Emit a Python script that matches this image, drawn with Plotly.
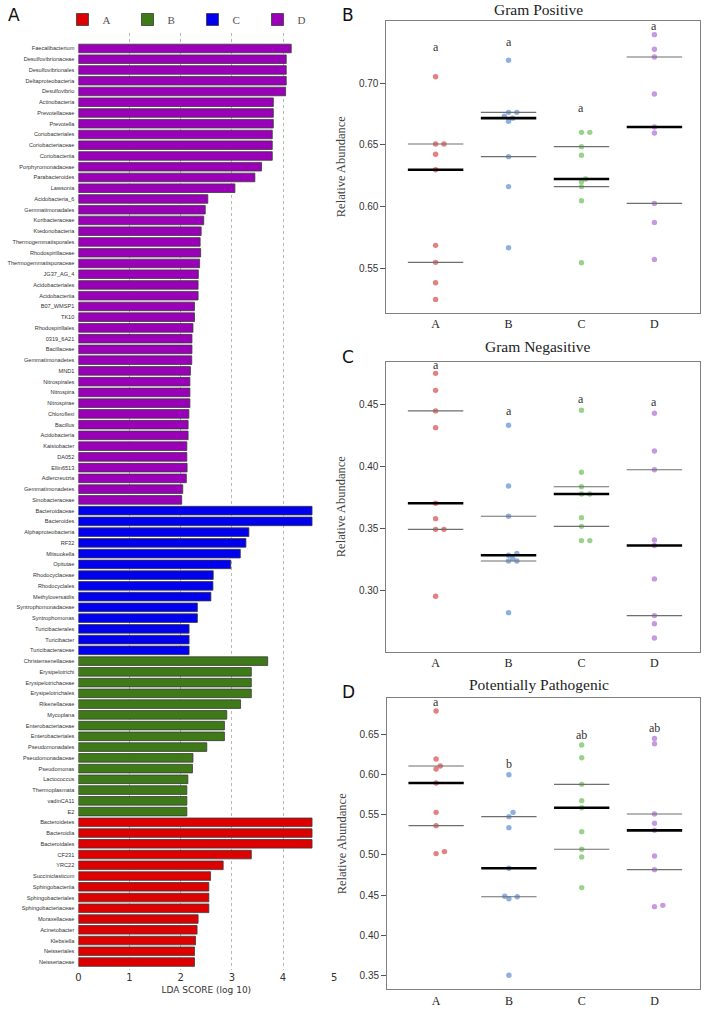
import numpy as np
import plotly.graph_objects as go

W, H = 711, 1009

# ---------------- Panel A: LDA scores ----------------
lda_group_names = ["A", "B", "C", "D"]
lda_group_colors = {"A": "#DD0000", "B": "#3E7A18", "C": "#0000EE", "D": "#9A00B8"}

taxa_D = ["Faecalibacterium", "Desulfovibrionaceae", "Desulfovibrionales", "Deltaproteobacteria",
          "Desulfovibrio", "Actinobacteria", "Prevotellaceae", "Prevotella", "Coriobacteriales",
          "Coriobacteriaceae", "Coriobacteriia", "Porphyromonadaceae", "Parabacteroides", "Lawsonia",
          "Acidobacteria_6", "Gemmatimonadales", "Koribacteraceae", "Ktedonobacteria",
          "Thermogemmatisporales", "Rhodospirillaceae", "Thermogemmatisporaceae", "JG37_AG_4",
          "Acidobacteriales", "Acidobacteriia", "B07_WMSP1", "TK10", "Rhodospirillales", "0319_6A21",
          "Bacillaceae", "Gemmatimonadetes", "MND1", "Nitrospirales", "Nitrospira", "Nitrospirae",
          "Chloroflexi", "Bacillus", "Acidobacteria", "Kaistobacter", "DA052", "Ellin6513",
          "Adlercreutzia", "Gemmatimonadetes", "Sinobacteraceae"]
lda_D = [4.16, 4.063, 4.063, 4.063, 4.05, 3.81, 3.81, 3.81, 3.79, 3.79, 3.79, 3.58, 3.45, 3.06,
         2.53, 2.48, 2.45, 2.40, 2.38, 2.39, 2.37, 2.345, 2.34, 2.34, 2.27, 2.27, 2.24, 2.22,
         2.22, 2.216, 2.19, 2.18, 2.18, 2.18, 2.16, 2.145, 2.145, 2.12, 2.12, 2.125, 2.11, 2.04, 2.02]

taxa_C = ["Bacteroidaceae", "Bacteroides", "Alphaproteobacteria", "RF32", "Mitsuokella", "Opitutae",
          "Rhodocyclaceae", "Rhodocyclales", "Methyloversatilis", "Syntrophomonadaceae",
          "Syntrophomonas", "Turicibacterales", "Turicibacter", "Turicibacteraceae"]
lda_C = [4.567, 4.567, 3.333, 3.275, 3.165, 2.978, 2.636, 2.63, 2.59, 2.326, 2.326, 2.164, 2.164, 2.164]

taxa_B = ["Christensenellaceae", "Erysipelotrichi", "Erysipelotrichaceae", "Erysipelotrichales",
          "Rikenellaceae", "Mycoplana", "Enterobacteriaceae", "Enterobacteriales", "Pseudomonadales",
          "Pseudomonadaceae", "Pseudomonas", "Lactococcus", "Thermoplasmata", "vadinCA11", "E2"]
lda_B = [3.70, 3.38, 3.38, 3.38, 3.17, 2.90, 2.855, 2.855, 2.51, 2.24, 2.23, 2.14, 2.12, 2.12, 2.12]

taxa_A = ["Bacteroidetes", "Bacteroidia", "Bacteroidales", "CF231", "YRC22", "Succiniclasticum",
          "Sphingobacteriia", "Sphingobacteriales", "Sphingobacteriaceae", "Moraxellaceae",
          "Acinetobacter", "Klebsiella", "Neisseriales", "Neisseriaceae"]
lda_A = [4.567, 4.567, 4.567, 3.38, 2.83, 2.584, 2.55, 2.55, 2.55, 2.34, 2.32, 2.29, 2.27, 2.27]

lda_xticks = [0, 1, 2, 3, 4, 5]

# ---------------- Panels B-D: relative abundance ----------------
groups = ["A", "B", "C", "D"]
group_point_colors = ["rgba(222,96,96,0.8)", "rgba(112,156,216,0.8)",
                      "rgba(128,200,110,0.8)", "rgba(184,128,218,0.8)"]

gp_A = [0.7051, 0.6505, 0.6505, 0.6422, 0.6297, 0.5684, 0.5546, 0.5381, 0.5246]
gp_B = [0.7184, 0.6762, 0.6762, 0.6730, 0.6715, 0.6690, 0.6403, 0.6160, 0.5665]
gp_C = [0.6600, 0.6600, 0.6484, 0.6414, 0.6222, 0.6200, 0.6160, 0.6046, 0.5543]
gp_D = [0.7392, 0.7273, 0.7211, 0.6911, 0.6643, 0.6595, 0.6024, 0.5870, 0.5570]
gp_letters = ["a", "a", "a", "a"]
gp_letter_y = [0.7295, 0.7335, 0.680, 0.746]

gn_A = [0.4755, 0.4618, 0.4452, 0.4317, 0.3707, 0.3583, 0.3497, 0.3497, 0.2957]
gn_B = [0.4336, 0.3847, 0.3602, 0.3302, 0.3288, 0.3262, 0.3242, 0.3242, 0.2825]
gn_C = [0.4457, 0.3957, 0.3841, 0.3782, 0.3782, 0.3591, 0.3521, 0.3406, 0.3406]
gn_D = [0.4433, 0.4129, 0.3978, 0.3411, 0.3366, 0.3097, 0.2801, 0.2736, 0.2621]
gn_letters = ["a", "a", "a", "a"]
gn_letter_y = [0.4823, 0.4454, 0.4548, 0.4527]

pp_A = [0.6795, 0.6197, 0.6109, 0.6072, 0.5897, 0.5532, 0.5366, 0.5042, 0.5017]
pp_B = [0.6001, 0.5532, 0.5478, 0.5341, 0.4834, 0.4485, 0.4480, 0.4455, 0.3500]
pp_C = [0.6371, 0.6213, 0.5881, 0.5677, 0.5590, 0.5291, 0.5071, 0.4975, 0.4593]
pp_D = [0.6454, 0.6388, 0.5511, 0.5395, 0.5307, 0.4988, 0.4817, 0.4372, 0.4356]
pp_letters = ["a", "b", "ab", "ab"]
pp_letter_y = [0.6903, 0.6130, 0.6500, 0.6587]

panel_titles = ["Gram Positive", "Gram Negasitive", "Potentially Pathogenic"]
panel_labels = ["A", "B", "C", "D"]

# ---------------- layout geometry (pixels) ----------------
def px_x(p):
    return p / W

def px_y(p):
    return 1 - p / H

fig = go.Figure()

# ---- Panel A bars ----
blocks = [("D", taxa_D, lda_D), ("C", taxa_C, lda_C), ("B", taxa_B, lda_B), ("A", taxa_A, lda_A)]
all_taxa = []
positions = {}
start = 0
for g, taxa, vals in blocks:
    positions[g] = list(range(start, start + len(taxa)))
    all_taxa.extend(taxa)
    start += len(taxa)
n_taxa = len(all_taxa)

block_map = {g: (taxa, vals) for g, taxa, vals in blocks}
for g in lda_group_names:
    taxa, vals = block_map[g]
    fig.add_trace(go.Bar(
        x=vals, y=positions[g], orientation="h", name=g,
        marker=dict(color=lda_group_colors[g], line=dict(color="#3a3a3a", width=0.8)),
        width=0.8, xaxis="x", yaxis="y", showlegend=True,
        hovertext=taxa,
    ))

# ---- Beeswarm helper ----
def swarm_offsets(values, ypx_per_unit, xpx_per_unit, diam=4.8, step=4.2):
    values = np.asarray(values, dtype=float)
    order = np.argsort(values)
    placed = []
    offs = np.zeros(len(values))
    for i in order:
        yp = values[i] * ypx_per_unit
        xp = 0.0
        for k in [0, 1, -1, 2, -2, 3, -3]:
            xp = k * step
            if all((xp - a) ** 2 + (yp - b) ** 2 >= diam ** 2 for a, b in placed):
                break
        placed.append((xp, yp))
        offs[i] = xp / xpx_per_unit
    return offs

panels = [
    dict(data=[gp_A, gp_B, gp_C, gp_D], letters=gp_letters, letter_y=gp_letter_y,
         top=20.7, bottom=312.7, left=386.7, right=703.3, yr=[0.5138, 0.7505],
         ticks=[0.55, 0.60, 0.65, 0.70], title_y=10, label_y=15),
    dict(data=[gn_A, gn_B, gn_C, gn_D], letters=gn_letters, letter_y=gn_letter_y,
         top=361.7, bottom=651.7, left=386.7, right=703.3, yr=[0.2510, 0.4849],
         ticks=[0.30, 0.35, 0.40, 0.45], title_y=346.5, label_y=357),
    dict(data=[pp_A, pp_B, pp_C, pp_D], letters=pp_letters, letter_y=pp_letter_y,
         top=698.3, bottom=989.3, left=387.3, right=703.3, yr=[0.3325, 0.6954],
         ticks=[0.35, 0.40, 0.45, 0.50, 0.55, 0.60, 0.65], title_y=684, label_y=692),
]
xr = [-0.674, 3.63]

annotations = []
for pi, p in enumerate(panels):
    ax_n = pi + 2
    xa, ya = f"x{ax_n}", f"y{ax_n}"
    ypx = (p["bottom"] - p["top"]) / (p["yr"][1] - p["yr"][0])
    xpx = (p["right"] - p["left"]) / (xr[1] - xr[0])
    for gi, vals in enumerate(p["data"]):
        offs = swarm_offsets(vals, ypx, xpx)
        fig.add_trace(go.Scatter(
            x=gi + offs, y=vals, mode="markers", xaxis=xa, yaxis=ya, showlegend=False,
            marker=dict(size=5.4, color=group_point_colors[gi], line=dict(width=0)),
        ))
    for gi, vals in enumerate(p["data"]):
        q1, med, q3 = np.percentile(vals, [25, 50, 75])
        for q, col, wd in [(q1, "#6e6e6e", 1.1), (q3, "#6e6e6e", 1.1), (med, "#000000", 2.6)]:
            fig.add_trace(go.Scatter(
                x=[gi - 0.38, gi + 0.38], y=[q, q], mode="lines", xaxis=xa, yaxis=ya,
                showlegend=False, line=dict(color=col, width=wd), hoverinfo="skip",
            ))
        annotations.append(dict(
            x=gi, y=p["letter_y"][gi], xref=xa, yref=ya, text=p["letters"][gi],
            showarrow=False, font=dict(family="Liberation Serif", size=12, color="#333333"),
        ))
    annotations.append(dict(
        x=px_x((p["left"] + p["right"]) / 2 - 5), y=px_y(p["title_y"]), xref="paper", yref="paper",
        text=panel_titles[pi], showarrow=False, xanchor="center", yanchor="middle",
        font=dict(family="Liberation Serif", size=15.5, color="#222222"),
    ))
    annotations.append(dict(
        x=px_x(348), y=px_y(p["label_y"]), xref="paper", yref="paper",
        text=panel_labels[pi + 1], showarrow=False, xanchor="center", yanchor="middle",
        font=dict(family="DejaVu Sans", size=17, color="#111111"),
    ))

annotations.append(dict(
    x=px_x(11), y=px_y(15), xref="paper", yref="paper", text=panel_labels[0],
    showarrow=False, xanchor="center", yanchor="middle",
    font=dict(family="DejaVu Sans", size=17, color="#111111"),
))

layout = dict(
    width=W, height=H, margin=dict(l=0, r=0, t=0, b=0),
    paper_bgcolor="white", plot_bgcolor="white",
    annotations=annotations,
    showlegend=True,
    legend=dict(orientation="h", x=px_x(60), y=px_y(5), xanchor="left", yanchor="top",
                entrywidth=20, entrywidthmode="pixels", traceorder="normal",
                font=dict(family="Liberation Serif", size=11, color="#555555"),
                bgcolor="rgba(0,0,0,0)"),
    bargap=0.2,
    xaxis=dict(domain=[px_x(76), px_x(334)], range=[0, 5], anchor="y",
               tickvals=lda_xticks, showgrid=True, griddash="dot", gridcolor="#b8b8b8",
               gridwidth=1, zeroline=False, showline=False, ticks="",
               tickfont=dict(family="DejaVu Sans", size=10, color="#333333"),
               title=dict(text="LDA SCORE (log 10)", standoff=4,
                          font=dict(family="DejaVu Sans", size=9, color="#333333"))),
    yaxis=dict(domain=[px_y(970), px_y(33)], range=[n_taxa - 1 + 0.74, -1.44], anchor="x",
               tickvals=list(range(n_taxa)), ticktext=all_taxa, showgrid=False,
               zeroline=False, showline=False, ticks="", ticklabelstandoff=3,
               tickfont=dict(family="Liberation Sans", size=5.6, color="#333333")),
)

for pi, p in enumerate(panels):
    ax_n = pi + 2
    layout[f"xaxis{ax_n}"] = dict(
        domain=[px_x(p["left"]), px_x(p["right"])], range=xr, anchor=f"y{ax_n}",
        tickvals=list(range(len(groups))), ticktext=groups, showgrid=False, zeroline=False,
        showline=True, mirror=True, linecolor="#808080", linewidth=1, ticks="",
        tickfont=dict(family="Liberation Serif", size=12, color="#222222"),
    )
    layout[f"yaxis{ax_n}"] = dict(
        domain=[px_y(p["bottom"]), px_y(p["top"])], range=p["yr"], anchor=f"x{ax_n}",
        tickvals=p["ticks"], tickformat=".2f", showgrid=False, zeroline=False,
        showline=True, mirror=True, linecolor="#808080", linewidth=1,
        ticks="outside", ticklen=5, tickcolor="#555555",
        tickfont=dict(family="Liberation Sans", size=10, color="#333333"),
        title=dict(text="Relative Abundance", standoff=10,
                   font=dict(family="Liberation Serif", size=12.5, color="#444444")),
    )

fig.update_layout(**layout)
fig.write_html("out.html", config={"displayModeBar": False},
               post_script="document.body.style.margin='0';document.body.style.overflow='hidden';")
